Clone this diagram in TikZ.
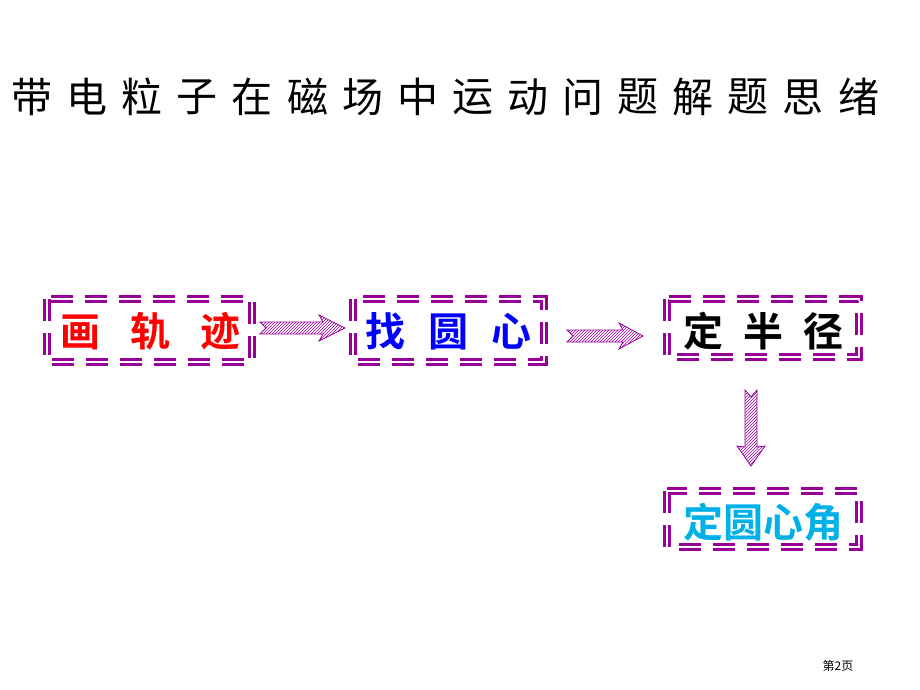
\documentclass[tikz,border=0pt]{standalone}
\usepackage{fontspec}
\newfontfamily\cjk{Noto Sans CJK SC}[BoldFont={Noto Sans CJK SC Bold}]
\usetikzlibrary{patterns}
\definecolor{pur}{RGB}{150,0,150}
\definecolor{cy}{RGB}{0,176,230}
\begin{document}
\begin{tikzpicture}[x=1pt,y=-1pt,
 box/.style={draw=pur,line width=3.6pt,double=white,double distance=1.2pt,dash pattern=on 22pt off 12pt},
 lab/.style={font=\cjk\bfseries\fontsize{40}{40}\selectfont},
 arr/.style={draw=pur,line width=0.8pt,pattern=north east lines,pattern color=pur}]
\useasboundingbox (0,0) rectangle (920,690);
\foreach \c [count=\i from 0] in {带,电,粒,子,在,磁,场,中,运,动,问,题,解,题,思,绪}
  \node[font=\cjk\fontsize{41}{41}\selectfont] (t\i) at (32+\i*55.1,97) {\c};
\draw[box] (47,299) rectangle (252,362);
\draw[box] (353,299) rectangle (544,362);
\draw[box] (667,299) rectangle (859,357);
\draw[box] (667,491) rectangle (859,547);
\node[lab,text=red] (a) at (150,331) {画\hspace{30pt}轨\hspace{30pt}迹};
\node[lab,text=blue] (b) at (448,331) {找\hspace{23pt}圆\hspace{23pt}心};
\node[lab,text=black] (c) at (763,331) {定\hspace{20pt}半\hspace{20pt}径};
\node[lab,text=cy] (d) at (763,522) {定圆心角};
\draw[arr] (260,322) -- (323,322) -- (319,315) -- (345,328) -- (319,341) -- (323,334) -- (260,334) -- (266,328) -- cycle;
\draw[arr] (567,330) -- (623,330) -- (619,323) -- (643,336) -- (619,349) -- (623,342) -- (567,342) -- (573,336) -- cycle;
\draw[arr] (745,390) -- (751,397) -- (757,390) -- (757,447) -- (765,446) -- (751,466) -- (737,446) -- (745,447) -- cycle;
\node[font=\cjk\fontsize{12}{12}\selectfont] (p) at (838,666) {第2页};
\end{tikzpicture}
\end{document}
